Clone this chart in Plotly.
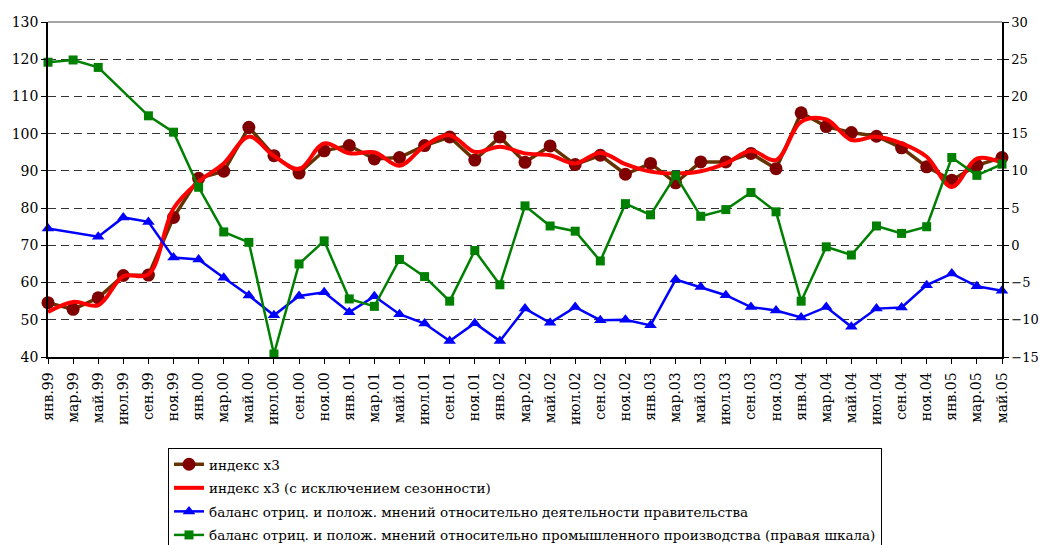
import plotly.graph_objects as go

categories = ["янв.99", "мар.99", "май.99", "июл.99", "сен.99", "ноя.99",
              "янв.00", "мар.00", "май.00", "июл.00", "сен.00", "ноя.00",
              "янв.01", "мар.01", "май.01", "июл.01", "сен.01", "ноя.01",
              "янв.02", "мар.02", "май.02", "июл.02", "сен.02", "ноя.02",
              "янв.03", "мар.03", "май.03", "июл.03", "сен.03", "ноя.03",
              "янв.04", "мар.04", "май.04", "июл.04", "сен.04", "ноя.04",
              "янв.05", "мар.05", "май.05"]

index_x3 = [54.6, 52.8, 55.9, 61.9, 62.0, 77.5,
            88.0, 89.9, 101.7, 94.1, 89.4, 95.4,
            96.8, 93.2, 93.6, 96.8, 99.1, 92.9,
            99.1, 92.3, 96.7, 91.7, 94.2, 89.1,
            92.0, 86.8, 92.4, 92.4, 94.7, 90.6,
            105.6, 101.9, 100.3, 99.3, 96.2, 91.1,
            87.5, 91.5, 93.6]

index_x3_sa = [52.1, 54.8, 53.9, 61.7, 62.2, 79.9,
               87.1, 92.0, 99.2, 94.0, 90.5, 97.4,
               94.7, 95.0, 91.4, 96.7, 99.6, 95.1,
               96.5, 94.7, 94.2, 92.0, 94.9, 91.8,
               89.8, 89.3, 89.9, 92.0, 95.4, 92.9,
               103.2, 103.8, 98.3, 99.2, 97.4, 93.8,
               85.7, 93.3, 92.2]

gov_balance = [74.5, None, 72.3, 77.5, 76.3, 66.7,
               66.2, 61.3, 56.5, 51.2, 56.4, 57.4,
               52.0, 56.3, 51.5, 49.0, 44.3, 49.1,
               44.3, 53.0, 49.2, 53.4, 49.9, 50.0,
               48.5, 60.8, 58.8, 56.6, 53.4, 52.5,
               50.6, 53.4, 48.1, 53.0, 53.3, 59.3,
               62.4, 59.0, 57.8]

ind_balance = [24.6, 24.9, 23.9, None, 17.4, 15.2,
               7.8, 1.8, 0.4, -14.6, -2.5, 0.6,
               -7.2, -8.2, -1.9, -4.2, -7.5, -0.7,
               -5.3, 5.3, 2.6, 1.9, -2.1, 5.6,
               4.1, 9.4, 3.9, 4.8, 7.1, 4.5,
               -7.5, -0.2, -1.3, 2.6, 1.6, 2.5,
               11.8, 9.4, 10.9]

names = ["индекс х3",
         "индекс х3 (с исключением сезонности)",
         "баланс отриц. и полож. мнений относительно деятельности правительства",
         "баланс отриц. и полож. мнений относительно промышленного производства (правая шкала)"]

FONT = "DejaVu Serif, Liberation Serif, serif"

fig = go.Figure()
fig.add_trace(go.Scatter(x=categories, y=index_x3, name=names[0], legendgroup="a",
                         mode="lines+markers", cliponaxis=False,
                         line=dict(color="#663300", width=3.5),
                         marker=dict(symbol="circle", size=13, color="#800000")))
fig.add_trace(go.Scatter(x=categories, y=index_x3_sa, name=names[1], legendgroup="b",
                         mode="lines", line=dict(color="#FF0000", width=4, shape="spline", smoothing=1)))
fig.add_trace(go.Scatter(x=categories, y=gov_balance, name=names[2], legendgroup="c",
                         mode="lines+markers", connectgaps=True, cliponaxis=False,
                         line=dict(color="#0000FF", width=2.5),
                         marker=dict(symbol="triangle-up", size=11, color="#0000FF")))
fig.add_trace(go.Scatter(x=categories, y=ind_balance, name=names[3], legendgroup="d",
                         mode="lines+markers", connectgaps=True, cliponaxis=False, yaxis="y2",
                         line=dict(color="#008000", width=2.5),
                         marker=dict(symbol="square", size=9, color="#008000")))

fig.update_layout(
    width=1039, height=545,
    margin=dict(l=48, r=37, t=22, b=188, autoexpand=False),
    paper_bgcolor="white", plot_bgcolor="white",
    font=dict(family=FONT, size=14, color="black"),
    showlegend=True,
    legend=dict(x=(168 - 48) / 954, y=(357 - 448) / 335, xanchor="left", yanchor="top",
                bgcolor="white", bordercolor="black", borderwidth=1,
                font=dict(family=FONT, size=13.5, color="black"),
                tracegroupgap=3, itemwidth=30),
    xaxis=dict(type="category", range=[0, len(categories) - 1],
               showline=True, linecolor="black", linewidth=1.5,
               ticks="outside", ticklen=5, tickcolor="black",
               tickangle=-90, tickfont=dict(family=FONT, size=14),
               ticklabelstandoff=3,
               showgrid=False, zeroline=False),
    yaxis=dict(range=[40, 130], dtick=10, showline=True, linecolor="black", linewidth=1.5,
               ticks="outside", ticklen=5, tickcolor="black",
               tickfont=dict(family=FONT, size=14),
               showgrid=True, gridcolor="#333333", gridwidth=1, griddash="8px,5px",
               zeroline=False),
    yaxis2=dict(range=[-15, 30], dtick=5, overlaying="y", side="right",
                showline=True, linecolor="black", linewidth=1.5,
                ticks="outside", ticklen=5, tickcolor="black",
                tickfont=dict(family=FONT, size=13),
                showgrid=False, zeroline=False),
    shapes=[dict(type="line", xref="paper", yref="paper", x0=0, x1=1, y0=1, y1=1,
                 line=dict(color="#888888", width=1.5), layer="below")],
)

fig.write_html("out.html", config={"displayModeBar": False},
               post_script="document.body.style.margin='0';document.body.style.overflow='hidden';")
